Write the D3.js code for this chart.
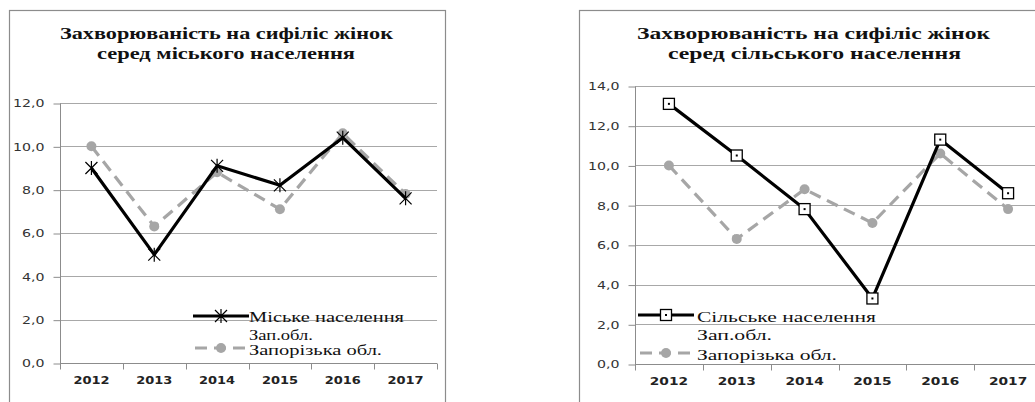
<!DOCTYPE html>
<html>
<head>
<meta charset="utf-8">
<script src="https://cdn.jsdelivr.net/npm/d3@7"></script>
<style>
  html, body { margin: 0; padding: 0; background: #fff; }
  svg { display: block; }
</style>
</head>
<body>
<svg id="chart" width="1035" height="402"></svg>
<script>
var years = ["2012", "2013", "2014", "2015", "2016", "2017"];
var urbanValues = [9.0, 5.0, 9.1, 8.2, 10.4, 7.6];
var ruralValues = [13.1, 10.5, 7.8, 3.3, 11.3, 8.6];
var regionValues = [10.0, 6.3, 8.8, 7.1, 10.6, 7.8];
var urbanTicks = [0, 2, 4, 6, 8, 10, 12];
var ruralTicks = [0, 2, 4, 6, 8, 10, 12, 14];
var urbanTitle = ["Захворюваність  на сифіліс жінок", "серед міського  населення"];
var ruralTitle = ["Захворюваність  на сифіліс жінок", "серед сільського  населення"];
var urbanLegend = ["Міське населення", "Зап.обл.", "Запорізька обл."];
var ruralLegend = ["Сільське населення", "Зап.обл.", "Запорізька обл."];

var SERIF = "Liberation Serif";
var SANS = "DejaVu Sans";
var svg = d3.select("#chart");
var fmt = function (d) { return d.toFixed(1).replace(".", ","); };

function drawChart(opt) {
    var g = svg.append("g");
    // frame
    g.append("rect")
        .attr("x", opt.frameX + 0.5).attr("y", 10.5)
        .attr("width", opt.frameW).attr("height", 420)
        .attr("fill", "none").attr("stroke", "#8c8c8c").attr("stroke-width", 1.2);

    // title, stretched to the width it has in the picture
    opt.title.forEach(function (line, i) {
        g.append("text")
            .attr("x", opt.titleX[i]).attr("y", 39 + i * 20)
            .attr("font-family", SERIF)
            .attr("font-weight", "bold")
            .attr("font-size", 17.5)
            .attr("textLength", opt.titleW[i])
            .attr("lengthAdjust", "spacingAndGlyphs")
            .attr("fill", "#111")
            .text(line);
    });

    var x = d3.scaleBand().domain(years).range([opt.x0, opt.x1]);
    var y = d3.scaleLinear().domain([0, opt.yMax]).range([opt.y0, opt.y1]);

    // gridlines
    g.append("g").selectAll("line").data(opt.ticks.filter(function (d) { return d > 0; }))
        .enter().append("line")
        .attr("x1", opt.x0).attr("x2", opt.gridEnd)
        .attr("y1", function (d) { return Math.round(y(d)) + 0.5; })
        .attr("y2", function (d) { return Math.round(y(d)) + 0.5; })
        .attr("stroke", "#a8a8a8").attr("stroke-width", 1.2);

    // y axis
    var yAxis = g.append("g")
        .attr("transform", "translate(" + (opt.x0 + 0.5) + ",0.5)")
        .call(d3.axisLeft(y).tickValues(opt.ticks).tickFormat(fmt).tickSize(7).tickPadding(9));
    yAxis.select(".domain").attr("stroke", "#8c8c8c").attr("d", "M0," + opt.y1 + "V" + opt.y0);
    yAxis.selectAll(".tick line").attr("stroke", "#8c8c8c");
    yAxis.selectAll("text")
        .attr("font-family", SANS)
        .attr("font-size", 10.5).attr("fill", "#333")
        .attr("x", -16 / 1.35)
        .attr("transform", "scale(1.35,1)");

    // x axis
    var xAxis = g.append("g")
        .attr("transform", "translate(0," + (Math.round(opt.y0) + 0.5) + ")")
        .call(d3.axisBottom(x).tickSize(0).tickPadding(13));
    xAxis.select(".domain").attr("stroke", "#8c8c8c").attr("d", "M" + opt.x0 + ",0H" + opt.gridEnd);
    xAxis.selectAll("text")
        .attr("font-family", SANS)
        .attr("font-weight", "bold")
        .attr("font-size", 11).attr("fill", "#222")
        .attr("transform", "scale(" + opt.yearStretch + ",1)");
    var bounds = years.map(function (d) { return x(d); }).concat([opt.x1]);
    xAxis.selectAll(".sep").data(bounds).enter().append("line")
        .attr("x1", function (d) { return Math.round(d) + 0.5; })
        .attr("x2", function (d) { return Math.round(d) + 0.5; })
        .attr("y1", 0).attr("y2", 6)
        .attr("stroke", "#8c8c8c");

    var cx = function (d, i) { return x(years[i]) + x.bandwidth() / 2; };
    var line = d3.line().x(cx).y(function (d) { return y(d); });

    // regional series (grey dashed, circles)
    g.append("path").datum(regionValues)
        .attr("d", line).attr("fill", "none")
        .attr("stroke", "#a6a6a6").attr("stroke-width", 3.2)
        .attr("stroke-dasharray", "12,7");
    g.selectAll(".reg").data(regionValues).enter().append("circle")
        .attr("cx", cx).attr("cy", function (d) { return y(d); })
        .attr("r", 5).attr("fill", "#a6a6a6");

    // main series
    g.append("path").datum(opt.values)
        .attr("d", line).attr("fill", "none")
        .attr("stroke", "#000").attr("stroke-width", 3.2)
        .attr("stroke-linejoin", "round");
    opt.values.forEach(function (d, i) {
        opt.marker(g, cx(d, i), y(d));
    });

    // legend
    var lx = opt.legendX;
    g.append("line").attr("x1", lx).attr("x2", lx + 56).attr("y1", opt.legendLines[0]).attr("y2", opt.legendLines[0])
        .attr("stroke", "#000").attr("stroke-width", 3.2);
    opt.marker(g, lx + 28, opt.legendLines[0]);
    g.append("line").attr("x1", lx).attr("x2", lx + 56).attr("y1", opt.legendLines[1]).attr("y2", opt.legendLines[1])
        .attr("stroke", "#a6a6a6").attr("stroke-width", 3.2).attr("stroke-dasharray", "12,7")
        .attr("stroke-dashoffset", -2);
    g.append("circle").attr("cx", lx + 28).attr("cy", opt.legendLines[1]).attr("r", 5).attr("fill", "#a6a6a6");
    opt.legend.forEach(function (t, i) {
        g.append("text")
            .attr("x", opt.legendTextX).attr("y", opt.legendBase[i])
            .attr("font-family", SERIF)
            .attr("font-size", 15)
            .attr("textLength", opt.legendW[i])
            .attr("lengthAdjust", "spacingAndGlyphs")
            .attr("fill", "#111")
            .text(t);
    });
}

function starMarker(g, px, py) {
    var s = 6;
    var p = "M" + (px - s) + "," + (py - s) + "L" + (px + s) + "," + (py + s) +
        "M" + (px - s) + "," + (py + s) + "L" + (px + s) + "," + (py - s) +
        "M" + px + "," + (py - s - 1) + "L" + px + "," + (py + s + 1);
    g.append("path").attr("d", p).attr("stroke", "#000").attr("stroke-width", 1.2).attr("fill", "none");
}

function squareMarker(g, px, py) {
    g.append("rect").attr("x", px - 5.5).attr("y", py - 5.5).attr("width", 11).attr("height", 11)
        .attr("fill", "#fff").attr("stroke", "#000").attr("stroke-width", 1.3);
    g.append("rect").attr("x", px - 1).attr("y", py - 1).attr("width", 2).attr("height", 2).attr("fill", "#000");
}

drawChart({
    frameX: 9, frameW: 436,
    title: urbanTitle, titleX: [60, 97], titleW: [333, 258],
    values: urbanValues, ticks: urbanTicks, yMax: 12, yearStretch: 1.18,
    x0: 60, x1: 437, gridEnd: 437, y0: 363, y1: 103,
    marker: starMarker, legend: urbanLegend,
    legendX: 193, legendTextX: 249, legendLines: [316, 348],
    legendBase: [322, 340, 355], legendW: [155, 64, 133]
});

drawChart({
    frameX: 579, frameW: 500,
    title: ruralTitle, titleX: [637, 668], titleW: [353, 293],
    values: ruralValues, ticks: ruralTicks, yMax: 14, yearStretch: 1.25,
    x0: 635, x1: 1042, gridEnd: 1040, y0: 364, y1: 86,
    marker: squareMarker, legend: ruralLegend,
    legendX: 638, legendTextX: 697, legendLines: [315, 353],
    legendBase: [322, 340, 360], legendW: [179, 75, 140]
});
</script>
</body>
</html>
